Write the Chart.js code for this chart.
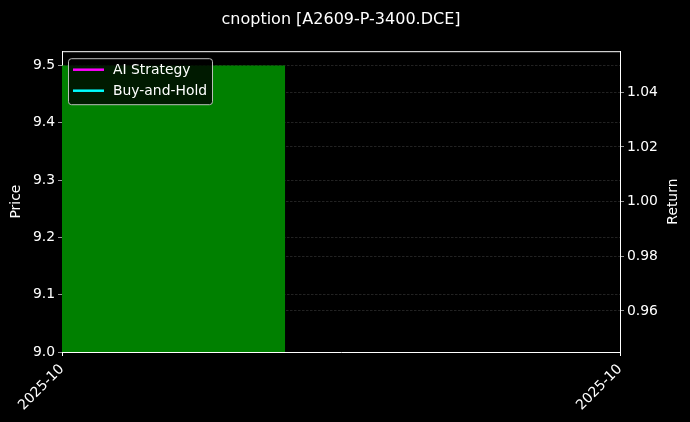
<!DOCTYPE html>
<html>
<head>
<meta charset="utf-8">
<script src="https://cdn.jsdelivr.net/npm/chart.js@4.4.1/dist/chart.umd.min.js"></script>
<style>
    html, body { margin: 0; padding: 0; background: #000; }
    #wrap { position: relative; width: 690px; height: 422px; }
</style>
</head>
<body>
<div id="wrap"><canvas id="chart"></canvas></div>
<script>
// x positions are fractions of the shown period (0 = start, 1 = end)
const periodTicks = [0, 1];
const periodLabels = ['2025-10', '2025-10'];

// price series (drawn as a filled block)
const priceX = [0, 0.4];
const priceValues = [9.5, 9.5];
const priceFloor = 9.0;

// return series (no visible points in this period)
const aiStrategy = [];
const buyAndHold = [];

const priceTicks = [9.0, 9.1, 9.2, 9.3, 9.4, 9.5];
const returnTicks = [0.96, 0.98, 1.00, 1.02, 1.04];

const FONT = 'DejaVu Sans';
const gridColor = 'rgba(128,128,128,0.45)';

// top spine, right axis title (reads bottom-to-top) and boxed legend
const frameAndLegend = {
    id: 'frameAndLegend',
    afterDraw(chart) {
        const { ctx, chartArea } = chart;
        ctx.save();
        ctx.strokeStyle = '#fff';
        ctx.lineWidth = 1;
        ctx.beginPath();
        ctx.moveTo(chartArea.left, chartArea.top + 0.5);
        ctx.lineTo(chartArea.right, chartArea.top + 0.5);
        ctx.stroke();

        ctx.save();
        ctx.translate(chartArea.right + 53, (chartArea.top + chartArea.bottom) / 2);
        ctx.rotate(-Math.PI / 2);
        ctx.font = `13.9px "${FONT}"`;
        ctx.fillStyle = '#fff';
        ctx.textAlign = 'center';
        ctx.textBaseline = 'middle';
        ctx.fillText('Return', 0, 0);
        ctx.restore();

        const items = chart.data.datasets.filter(d => d.inLegend);
        const x = chartArea.left + 6, y = chartArea.top + 7;
        const w = 144, h = 46, r = 3;
        ctx.beginPath();
        ctx.roundRect(x + 0.5, y + 0.5, w, h, r);
        ctx.fillStyle = 'rgba(0,0,0,0.8)';
        ctx.fill();
        ctx.strokeStyle = 'rgba(204,204,204,0.9)';
        ctx.stroke();

        ctx.font = `13.9px "${FONT}"`;
        ctx.textBaseline = 'middle';
        ctx.textAlign = 'left';
        items.forEach((d, i) => {
            const ly = y + 11.5 + i * 21;
            ctx.strokeStyle = d.borderColor;
            ctx.lineWidth = 2.5;
            ctx.beginPath();
            ctx.moveTo(x + 5, ly);
            ctx.lineTo(x + 36, ly);
            ctx.stroke();
            ctx.fillStyle = '#fff';
            ctx.fillText(d.label, x + 45, ly + 1);
        });
        ctx.restore();
    }
};

new Chart(document.getElementById('chart'), {
    type: 'line',
    data: {
        datasets: [
            {
                label: 'Price',
                data: priceX.map((x, i) => ({ x, y: priceValues[i] })),
                yAxisID: 'y',
                stepped: true,
                fill: { value: priceFloor },
                backgroundColor: '#008000',
                borderColor: 'rgba(0,0,0,0)',
                borderWidth: 0,
                pointRadius: 0
            },
            {
                label: 'AI Strategy',
                inLegend: true,
                data: aiStrategy,
                yAxisID: 'y1',
                borderColor: '#ff00ff',
                borderWidth: 2,
                pointRadius: 0
            },
            {
                label: 'Buy-and-Hold',
                inLegend: true,
                data: buyAndHold,
                yAxisID: 'y1',
                borderColor: '#00ffff',
                borderWidth: 2,
                pointRadius: 0
            }
        ]
    },
    options: {
        responsive: true,
        maintainAspectRatio: false,
        animation: false,
        layout: { padding: 0 },
        plugins: {
            legend: { display: false },
            tooltip: { enabled: false },
            title: {
                display: true,
                text: 'cnoption [A2609-P-3400.DCE]',
                color: '#fff',
                fullSize: false,
                font: { family: FONT, size: 16, weight: 'normal' },
                padding: { top: 10, bottom: 22 }
            }
        },
        scales: {
            x: {
                type: 'linear',
                min: 0,
                max: 1,
                afterBuildTicks: s => { s.ticks = periodTicks.map(v => ({ value: v })); },
                afterFit: s => { s.height = 70; },
                ticks: {
                    color: '#fff',
                    font: { family: FONT, size: 13.9 },
                    minRotation: 45,
                    maxRotation: 45,
                    padding: 5,
                    callback: (v, i) => periodLabels[i]
                },
                grid: { drawOnChartArea: false, drawTicks: true, tickLength: 4, tickColor: '#fff', tickBorderDash: [] },
                border: { color: '#fff', width: 1 }
            },
            y: {
                position: 'left',
                min: 9.0,
                max: 9.525,
                z: 1,
                afterBuildTicks: s => { s.ticks = priceTicks.map(v => ({ value: v })); },
                afterFit: s => { s.width = 62; },
                ticks: {
                    color: '#fff',
                    font: { family: FONT, size: 13.9 },
                    padding: 3,
                    callback: v => v.toFixed(1)
                },
                title: {
                    display: true,
                    text: 'Price',
                    color: '#fff',
                    font: { family: FONT, size: 13.9 },
                    padding: { top: 8, bottom: 0 }
                },
                grid: { color: gridColor, lineWidth: 0.6, tickLength: 4, tickColor: '#fff', tickBorderDash: [] },
                border: { color: '#fff', width: 1, dash: [2.5, 1.5] }
            },
            y1: {
                position: 'right',
                min: 0.945,
                max: 1.055,
                z: 1,
                afterBuildTicks: s => { s.ticks = returnTicks.map(v => ({ value: v })); },
                afterFit: s => { s.width = 70; },
                ticks: {
                    color: '#fff',
                    font: { family: FONT, size: 13.9 },
                    padding: 3,
                    callback: v => v.toFixed(2)
                },
                grid: { color: gridColor, lineWidth: 0.6, tickLength: 4, tickColor: '#fff', tickBorderDash: [] },
                border: { color: '#fff', width: 1, dash: [2.5, 1.5] }
            }
        }
    },
    plugins: [frameAndLegend]
});
</script>
</body>
</html>
